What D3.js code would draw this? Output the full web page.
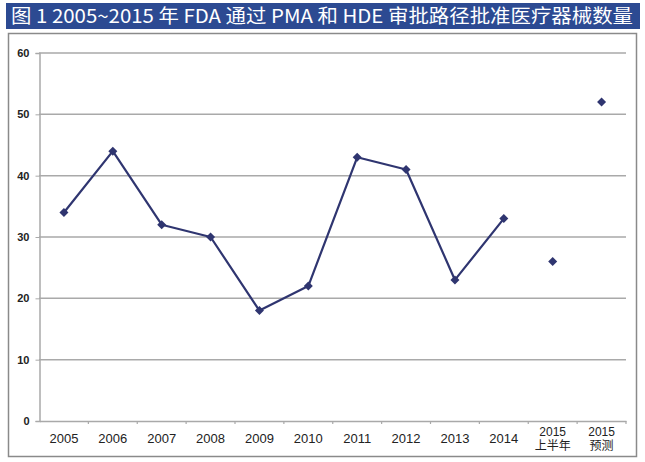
<!DOCTYPE html>
<html><head><meta charset="utf-8">
<script src="https://cdn.jsdelivr.net/npm/d3@7"></script>
<style>body{margin:0;background:#fff;}svg{display:block;}</style>
</head><body>
<svg id="c" width="645" height="462"></svg>
<script>
const title = "图 1  2005~2015 年 FDA 通过 PMA 和 HDE 审批路径批准医疗器械数量";
const categories = ["2005","2006","2007","2008","2009","2010","2011","2012","2013","2014","2015\n上半年","2015\n预测"];
const values = [34,44,32,30,18,22,43,41,23,33,26,52];
const connected = 10; // first 10 points joined by the line
const yTicks = [0,10,20,30,40,50,60];

const svg = d3.select("#c");
// title bar
svg.append("rect").attr("x",6).attr("y",3).attr("width",634).attr("height",26).attr("fill","#2c4a92");
svg.append("text").attr("x",11).attr("y",23).attr("fill","#fff")
  .attr("font-family","'Liberation Sans Narrow','Noto Sans CJK SC',sans-serif").attr("font-size",19)
  .attr("textLength",622).attr("lengthAdjust","spacingAndGlyphs").text(title);
// frame
svg.append("rect").attr("x",8.5).attr("y",33.5).attr("width",628).attr("height",423)
  .attr("fill","#fff").attr("stroke","#8a8a8a").attr("stroke-width",1.5);

const x = d3.scaleBand().domain(categories).range([39.5,626]);
const y = d3.scaleLinear().domain([0,60]).range([421,53]);

// grid
svg.append("g").selectAll("line").data(yTicks.filter(d=>d>0)).join("line")
  .attr("x1",39).attr("x2",626).attr("y1",d=>y(d)).attr("y2",d=>y(d))
  .attr("stroke","#a9a9a9").attr("stroke-width",1.5);

// y axis
const ya = svg.append("g").attr("transform","translate(39.5,0)")
  .call(d3.axisLeft(y).tickValues(yTicks).tickSize(4).tickPadding(6));
ya.select(".domain").attr("stroke","#a9a9a9").attr("stroke-width",1.5);
ya.selectAll(".tick line").attr("stroke","#a9a9a9");
ya.selectAll("text").attr("font-family","'Liberation Sans',sans-serif").attr("font-size",11)
  .attr("font-weight","bold").attr("fill","#222");

// x axis
const xa = svg.append("g").attr("transform","translate(0,421)")
  .call(d3.axisBottom(x).tickSize(0).tickPadding(0).tickFormat(""));
xa.select(".domain").attr("stroke","#a9a9a9").attr("stroke-width",1.5);
xa.selectAll(".tick").remove();
const bounds = categories.map(c=>x(c)).concat([x.range()[1]]);
xa.append("g").selectAll("line").data(bounds.slice(1)).join("line")
  .attr("x1",d=>d).attr("x2",d=>d).attr("y1",0).attr("y2",3).attr("stroke","#a9a9a9").attr("stroke-width",1.2);
// labels
const lab = svg.append("g").attr("font-family","'Liberation Sans','Noto Sans CJK SC',sans-serif")
  .attr("font-size",13).attr("fill","#222").attr("text-anchor","middle");
categories.forEach(c=>{
  const parts = c.split("\n");
  const cx = x(c)+x.bandwidth()/2;
  if(parts.length===1){
    lab.append("text").attr("x",cx).attr("y",443).text(parts[0]);
  } else {
    lab.append("text").attr("x",cx).attr("y",436).attr("font-size",12).text(parts[0]);
    lab.append("text").attr("x",cx).attr("y",450).attr("font-size",12).text(parts[1]);
  }
});

// line
const pts = categories.map((c,i)=>({c,v:values[i],i}));
const line = d3.line().x(d=>x(d.c)+x.bandwidth()/2).y(d=>y(d.v));
svg.append("path").datum(pts.slice(0,connected)).attr("d",line)
  .attr("fill","none").attr("stroke","#2f3570").attr("stroke-width",2.2).attr("stroke-linejoin","round");
const r = 4.5;
svg.append("g").selectAll("path").data(pts).join("path")
  .attr("d",`M0,${-r}L${r},0L0,${r}L${-r},0Z`)
  .attr("transform",d=>`translate(${x(d.c)+x.bandwidth()/2},${y(d.v)})`)
  .attr("fill","#2f3570");
</script>
</body></html>
